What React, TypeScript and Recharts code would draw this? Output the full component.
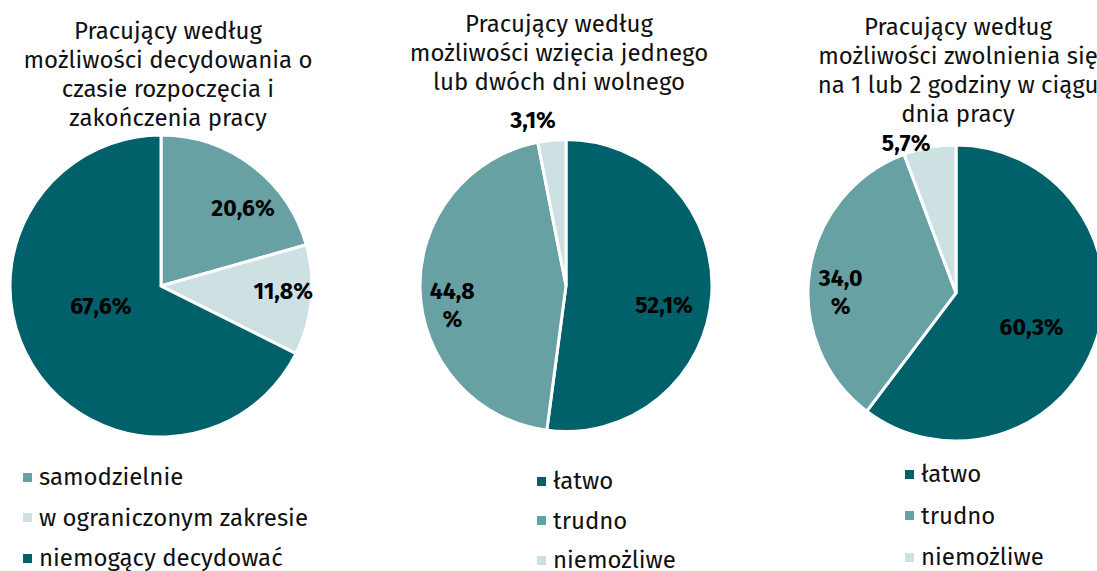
import React from 'react';
import { PieChart, Pie, Cell } from 'recharts';

// ---- data ----
const pie1Categories = ['samodzielnie', 'w ograniczonym zakresie', 'niemogący decydować'];
const pie1Values = [20.6, 11.8, 67.6];

const pie2Categories = ['łatwo', 'trudno', 'niemożliwe'];
const pie2Values = [52.1, 44.8, 3.1];

const pie3Categories = ['łatwo', 'trudno', 'niemożliwe'];
const pie3Values = [60.3, 34.0, 5.7];

const pie1Title = ['Pracujący według', 'możliwości decydowania o', 'czasie rozpoczęcia i', 'zakończenia pracy'];
const pie2Title = ['Pracujący według', 'możliwości wzięcia jednego', 'lub dwóch dni wolnego'];
const pie3Title = ['Pracujący według', 'możliwości zwolnienia się', 'na 1 lub 2 godziny w ciągu', 'dnia pracy'];

// ---- styles / layout ----
const DARK = '#00616A';
const MID = '#67A1A4';
const LIGHT = '#CDE0E2';
const FONT = '"Fira Sans", "Open Sans", "Noto Sans", sans-serif';

const W = 1097;
const H = 571;

type LabelPos = { rf: number; da: number; wrap?: boolean };

const pies = [
  {
    cats: pie1Categories, vals: pie1Values, title: pie1Title,
    colors: [MID, LIGHT, DARK],
    cx: 161, cy: 286, r: 151,
    titleTop: 17, titleCx: 168,
    legendLeft: 23, legendTop: 457, legendPitch: 40.5,
    labels: [{ rf: 0.75, da: -9.3 }, { rf: 0.81, da: 3.1 }, { rf: 0.42, da: -13.3 }] as LabelPos[],
  },
  {
    cats: pie2Categories, vals: pie2Values, title: pie2Title,
    colors: [DARK, MID, LIGHT],
    cx: 566, cy: 285.5, r: 146,
    titleTop: 10, titleCx: 559,
    legendLeft: 537, legendTop: 461, legendPitch: 39.5,
    labels: [{ rf: 0.685, da: -7.5 }, { rf: 0.79, da: 7.9, wrap: true }, { rf: 1.155, da: 5.7 }] as LabelPos[],
  },
  {
    cats: pie3Categories, vals: pie3Values, title: pie3Title,
    colors: [DARK, MID, LIGHT],
    cx: 956, cy: 293, r: 148,
    titleTop: 13, titleCx: 958,
    legendLeft: 905, legendTop: 454, legendPitch: 41.5,
    labels: [{ rf: 0.56, da: -5.6 }, { rf: 0.78, da: 7.8, wrap: true }, { rf: 1.07, da: 8.1 }] as LabelPos[],
  },
];

const RAD = Math.PI / 180;
const fmt = (v: number) => v.toFixed(1).replace('.', ',') + '%';

const makeLabel = (layout: LabelPos[]) => (props: any) => {
  const { cx, cy, midAngle, outerRadius, index, value } = props;
  const lp = layout[index];
  const ang = (midAngle + lp.da) * RAD;
  const rr = outerRadius * lp.rf;
  const x = cx + rr * Math.cos(-ang);
  const y = cy + rr * Math.sin(-ang);
  const txt = fmt(value);
  const common = {
    textAnchor: 'middle' as const,
    dominantBaseline: 'central' as const,
    fill: '#000',
    fontFamily: FONT,
    fontWeight: 700,
    fontSize: 23,
  };
  if (lp.wrap) {
    const a = txt.slice(0, -1);
    return (
      <text key={'l' + index} x={x} y={y} {...common}>
        <tspan x={x} y={y - 14}>{a}</tspan>
        <tspan x={x} y={y + 14}>%</tspan>
      </text>
    );
  }
  return (
    <text key={'l' + index} x={x} y={y} {...common}>
      {txt}
    </text>
  );
};

export default function App() {
  return (
    <div style={{ position: 'absolute', left: 0, top: 0, width: W, height: H, overflow: 'hidden', background: '#fff', fontFamily: FONT }}>
      <div style={{ position: 'absolute', left: 0, top: 0 }}>
        <PieChart width={W} height={H} margin={{ top: 0, right: 0, bottom: 0, left: 0 }}>
          {pies.map((p, pi) => (
            <Pie
              key={pi}
              data={p.cats.map((name, i) => ({ name, value: p.vals[i] }))}
              dataKey="value"
              nameKey="name"
              cx={p.cx}
              cy={p.cy}
              outerRadius={p.r}
              innerRadius={0}
              startAngle={90}
              endAngle={-270}
              stroke="#ffffff"
              strokeWidth={3}
              labelLine={false}
              label={makeLabel(p.labels)}
              isAnimationActive={false}
            >
              {p.cats.map((_, i) => (
                <Cell key={i} fill={p.colors[i]} />
              ))}
            </Pie>
          ))}
        </PieChart>
      </div>
      {pies.map((p, pi) => (
        <div
          key={'t' + pi}
          style={{
            position: 'absolute',
            left: p.titleCx - 200,
            width: 400,
            top: p.titleTop,
            textAlign: 'center',
            fontSize: 24,
            lineHeight: '29px',
            color: '#111',
            whiteSpace: 'nowrap',
          }}
        >
          {p.title.map((l, i) => (
            <div key={i}>{l}</div>
          ))}
        </div>
      ))}
      {pies.map((p, pi) => (
        <div key={'lg' + pi} style={{ position: 'absolute', left: p.legendLeft, top: p.legendTop }}>
          {p.cats.map((c, i) => (
            <div
              key={i}
              style={{ position: 'absolute', top: i * p.legendPitch, left: 0, height: 40, display: 'flex', alignItems: 'center', whiteSpace: 'nowrap' }}
            >
              <span style={{ display: 'inline-block', width: 9, height: 9, background: p.colors[i], marginRight: 7 }} />
              <span style={{ fontSize: 24, color: '#111' }}>{c}</span>
            </div>
          ))}
        </div>
      ))}
    </div>
  );
}
